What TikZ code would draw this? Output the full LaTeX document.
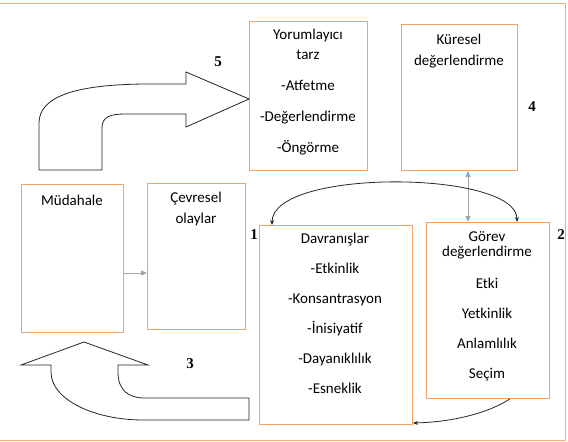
\documentclass[tikz,border=0pt]{standalone}
\usepackage{fontspec}
\setmainfont{Carlito}
\newfontfamily\numfont{Liberation Serif}
\usetikzlibrary{arrows.meta}
\definecolor{boxorange}{RGB}{241,162,100}
\definecolor{arrowgray}{RGB}{165,165,165}
\begin{document}
\begin{tikzpicture}[x=1pt,y=-1pt,
  box/.style={draw=boxorange, line width=0.9pt, anchor=north west, inner sep=0pt},
  txt/.style={font=\fontsize{15}{15}\selectfont, inner sep=0pt, text height=10.5pt, text depth=3pt},
  num/.style={font=\numfont\bfseries\fontsize{15}{15}\selectfont, inner sep=0pt},
  grayarrow/.style={draw=arrowgray, line width=1pt, -{Triangle[length=6pt,width=5pt]}},
  graydouble/.style={draw=arrowgray, line width=1pt, {Triangle[length=6pt,width=5pt]}-{Triangle[length=6pt,width=5pt]}},
  curvearrow/.style={draw=black!85, line width=0.8pt},
  blockarrow/.style={draw=black!85, line width=0.8pt, fill=white, line join=miter}
]
\useasboundingbox (0,0) rectangle (568,442);
% outer frame
\draw[boxorange!85, line width=1pt] (-5,3) -- (565,3) -- (565,440) -- (-5,440);

% boxes
\node[box, minimum width=118pt, minimum height=149pt] (yor) at (249,21) {};
\node[box, minimum width=116pt, minimum height=146pt] (kur) at (401,24) {};
\node[box, minimum width=102pt, minimum height=148pt] (mud) at (21,184) {};
\node[box, minimum width=98pt, minimum height=146pt] (cev) at (147,183) {};
\node[box, minimum width=153pt, minimum height=199pt] (dav) at (259,225) {};
\node[box, minimum width=123pt, minimum height=176pt] (gor) at (426,222) {};

% texts
\node[txt] (y1) at (308,36) {Yorumlayıcı};
\node[txt] (y2) at (308,56) {tarz};
\node[txt] (y3) at (308,87) {-Atfetme};
\node[txt] (y4) at (308,118) {-Değerlendirme};
\node[txt] (y5) at (308,149) {-Öngörme};

\node[txt] (k1) at (459,41) {Küresel};
\node[txt] (k2) at (459,62) {değerlendirme};

\node[txt] (m1) at (72,202) {Müdahale};

\node[txt] (c1) at (196,199) {Çevresel};
\node[txt] (c2) at (196,220) {olaylar};

\node[txt] (d1) at (335,240) {Davranışlar};
\node[txt] (d2) at (335,270) {-Etkinlik};
\node[txt] (d3) at (335,300) {-Konsantrasyon};
\node[txt] (d4) at (335,330) {-İnisiyatif};
\node[txt] (d5) at (335,360) {-Dayanıklılık};
\node[txt] (d6) at (335,390) {-Esneklik};

\node[txt] (g1) at (487,238) {Görev};
\node[txt] (g2) at (487,253) {değerlendirme};
\node[txt] (g3) at (487,285) {Etki};
\node[txt] (g4) at (487,315) {Yetkinlik};
\node[txt] (g5) at (487,345) {Anlamlılık};
\node[txt] (g6) at (487,375) {Seçim};

% numbers
\node[num] (n1) at (254,235) {1};
\node[num] (n2) at (561,235) {2};
\node[num] (n3) at (190,364) {3};
\node[num] (n4) at (532,107) {4};
\node[num] (n5) at (218,62) {5};

% helper coordinates
\coordinate (hy) at (0,273);
\coordinate (vx) at (468,0);
\coordinate (ta) at (272,0);
\coordinate (tb) at (517,0);
\coordinate (ba) at (510,0);
\coordinate (bb) at (0,423);

% straight gray connectors
\draw[grayarrow] (mud.east |- hy) -- (cev.west |- hy);
\draw[graydouble] (kur.south -| vx) -- (gor.north -| vx);

% curved black connectors
\draw[curvearrow, {Stealth[length=5pt,width=4pt]}-{Stealth[length=5pt,width=4pt]}]
  (dav.north -| ta) .. controls (272,168) and (517,170) .. (gor.north -| tb);
\draw[curvearrow, -{Stealth[length=5pt,width=4pt]}]
  (gor.south -| ba) .. controls (490,412) and (455,422) .. (dav.east |- bb);

% block arrow 5
\draw[blockarrow] (39,170) -- (39,123) .. controls (39,95) and (80,84) .. (150,84)
  -- (186,84) -- (186,72) -- (249,99) -- (186,127) -- (186,114) -- (125,114)
  .. controls (110,114) and (102,117) .. (102,128) -- (102,170) -- cycle;

% block arrow 3
\draw[blockarrow] (249,420) -- (249,398) -- (145,398)
  .. controls (128,398) and (118,390) .. (118,372) -- (118,365) -- (148,365)
  -- (84,342) -- (21,365) -- (51,365) -- (51,372)
  .. controls (51,400) and (95,420) .. (143,420) -- cycle;
\end{tikzpicture}
\end{document}
